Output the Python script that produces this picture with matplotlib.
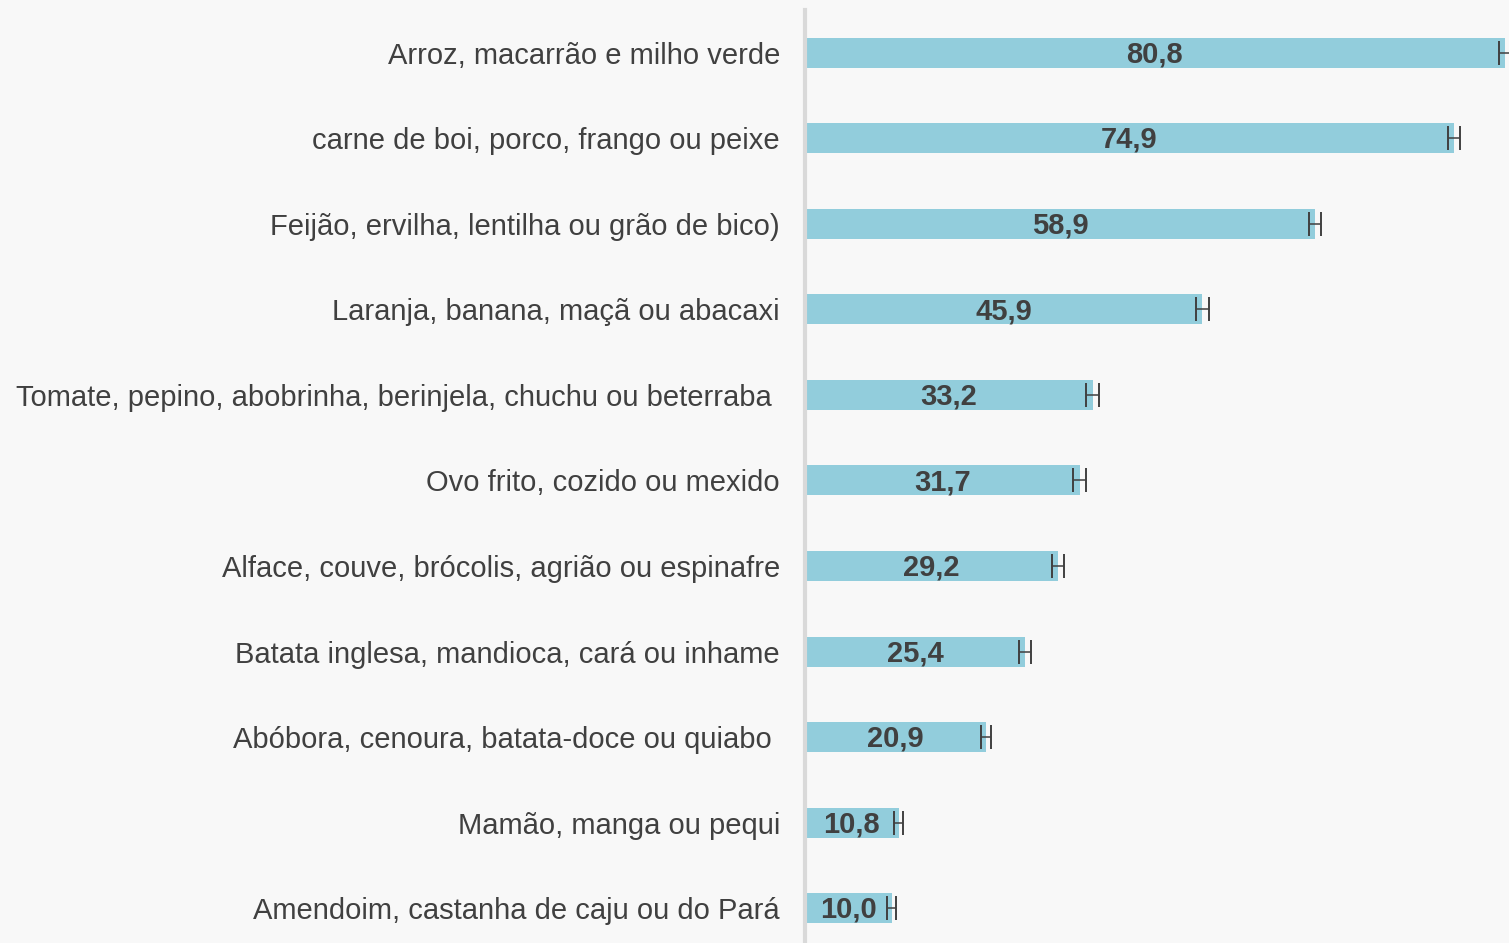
import matplotlib.pyplot as plt

categorias = [
    "Arroz, macarrão e milho verde",
    "carne de boi, porco, frango ou peixe",
    "Feijão, ervilha, lentilha ou grão de bico)",
    "Laranja, banana, maçã ou abacaxi",
    "Tomate, pepino, abobrinha, berinjela, chuchu ou beterraba ",
    "Ovo frito, cozido ou mexido",
    "Alface, couve, brócolis, agrião ou espinafre",
    "Batata inglesa, mandioca, cará ou inhame",
    "Abóbora, cenoura, batata-doce ou quiabo ",
    "Mamão, manga ou pequi",
    "Amendoim, castanha de caju ou do Pará",
]
valores = [80.8, 74.9, 58.9, 45.9, 33.2, 31.7, 29.2, 25.4, 20.9, 10.8, 10.0]
erros = [0.7, 0.7, 0.7, 0.7, 0.7, 0.7, 0.7, 0.7, 0.6, 0.5, 0.5]

plt.rcParams['font.family'] = ['Liberation Sans', 'DejaVu Sans']

fig = plt.figure(figsize=(15.09, 9.43), dpi=100)
fig.patch.set_facecolor('#F8F8F8')
ax = fig.add_axes([0.5335, -0.0085, 0.4665, 0.998])
ax.set_facecolor('#F8F8F8')

y = list(range(len(categorias)))
ax.barh(y, valores, height=0.35, color='#92CDDC', xerr=erros,
        error_kw=dict(ecolor='#404040', elinewidth=1.1, capsize=8.5, capthick=1.4))

for yi, v in zip(y, valores):
    ax.text(v / 2, yi + 0.02, f"{v:.1f}".replace('.', ','), ha='center', va='center',
            fontsize=21, fontweight='bold', color='#404040')

ax.set_yticks(y)
ax.set_yticklabels(categorias, fontsize=21, color='#404040')
ax.tick_params(axis='y', length=0, pad=18)
ax.set_xticks([])
ax.set_xlim(0, 81.3)
ax.set_ylim(len(categorias) - 0.5, -0.5)

for s in ['top', 'right', 'bottom']:
    ax.spines[s].set_visible(False)
ax.spines['left'].set_color('#D9D9D9')
ax.spines['left'].set_linewidth(3)

fig.savefig('out.png', dpi=100, facecolor=fig.get_facecolor())
